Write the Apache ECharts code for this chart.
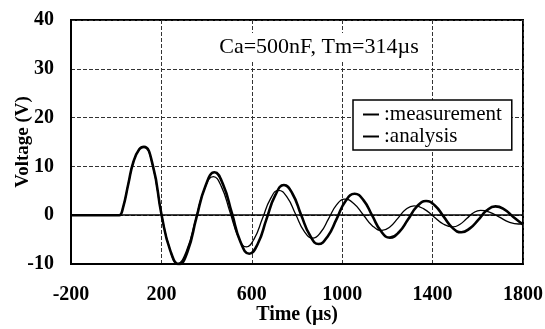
<!DOCTYPE html>
<html>
<head>
<meta charset="utf-8">
<script src="https://cdn.jsdelivr.net/npm/echarts@6/dist/echarts.min.js"></script>
<style>
html,body{margin:0;padding:0;background:#fff;}
#c{width:545px;height:329px;}
</style>
</head>
<body>
<div id="c"></div>
<script>
// ---- data ----
const titleText = "Ca=500nF, Tm=314µs";
const xName = "Time (µs)";
const yName = "Voltage (V)";
const seriesNames = ["measurement", "analysis"];

const measT = [-200,0,14,30,54,76,102,123,162,201,239,278,316,355,395,435,473,512,550,589,627,665,704,742,780,818,857,895,935,975,1015,1055,1094,1133,1172,1211,1251,1291,1331,1371,1410,1449,1488,1527,1565,1603,1640,1678,1717,1756,1800];
const measV = [0,0,0,1.5,6.5,10.9,13.5,14.0,10.2,0,-7.2,-10.1,-7.4,-0.5,6.0,8.8,6.3,0.4,-5.5,-7.9,-5.8,-0.8,4.1,6.2,4.4,0.1,-4.1,-5.9,-4.4,-0.8,2.9,4.4,3.1,-0.1,-3.3,-4.6,-3.5,-0.9,1.8,2.9,2.0,-0.3,-2.6,-3.5,-2.7,-0.9,1.0,1.8,1.2,-0.3,-1.9];

const anaT = [-200,0,14,30,54,76,102,123,160,198,235,272,311,351,390,430,466,503,540,576,611,647,683,718,756,794,832,870,905,940,975,1010,1051,1093,1134,1176,1211,1247,1282,1318,1361,1404,1447,1490,1520,1551,1581,1612,1654,1696,1738,1780,1800];
const anaV = [0,0,0,1.5,6.5,10.9,13.5,14.0,10.4,0.8,-6.6,-9.9,-7.3,-1.0,5.3,7.9,5.8,0.7,-4.4,-6.5,-4.8,-0.7,3.4,5.1,3.7,0.2,-3.3,-4.7,-3.5,-0.7,2.1,3.3,2.4,0.1,-2.2,-3.1,-2.4,-0.6,1.2,1.9,1.3,-0.25,-1.8,-2.4,-1.9,-0.7,0.5,1.0,0.6,-0.4,-1.4,-1.8,-1.75];

const xMin = -200, xMax = 1800, xStep = 400;
const yMin = -10, yMax = 40, yStep = 10;

// ---- chart ----
const pairs = (t, v) => t.map((x, i) => [x, v[i]]);
const serif = "Liberation Serif, Times New Roman, serif";
const chart = echarts.init(document.getElementById('c'), null, {renderer: 'canvas'});
const gridLine = {show: true, lineStyle: {color: '#333', width: 1, type: [4, 2]}};

chart.setOption({
  animation: false,
  backgroundColor: '#fff',
  title: {
    text: titleText,
    left: 315, top: 33, textAlign: 'center',
    padding: [3, 4],
    backgroundColor: '#fff',
    textStyle: {fontFamily: serif, fontSize: 22, fontWeight: 'normal', color: '#000'}
  },
  legend: {
    data: seriesNames,
    formatter: ':{name}',
    orient: 'vertical',
    left: 353, top: 100,
    padding: [4, 10, 3, 10],
    itemGap: 1,
    itemWidth: 16, itemHeight: 2,
    icon: 'rect',
    backgroundColor: '#fff',
    borderColor: '#000', borderWidth: 1.5, borderRadius: 0,
    textStyle: {fontFamily: serif, fontSize: 21, color: '#000'}
  },
  grid: {left: 71, right: 22, top: 20, bottom: 65, containLabel: false, outerBoundsMode: 'none',
         show: true, borderColor: '#000', borderWidth: 2, backgroundColor: 'transparent'},
  xAxis: {
    type: 'value', min: xMin, max: xMax, interval: xStep,
    name: xName, nameLocation: 'middle', nameGap: 41, nameMoveOverlap: false,
    nameTextStyle: {fontFamily: serif, fontSize: 20, fontWeight: 'bold', color: '#000'},
    axisLine: {show: true, onZero: false, lineStyle: {color: '#000', width: 2}},
    axisTick: {show: false},
    axisLabel: {fontFamily: serif, fontSize: 20, fontWeight: 'bold', color: '#000', margin: 21, formatter: v => String(v)},
    splitLine: gridLine
  },
  yAxis: {
    type: 'value', min: yMin, max: yMax, interval: yStep,
    name: yName, nameLocation: 'middle', nameGap: 38, nameMoveOverlap: false,
    nameTextStyle: {fontFamily: serif, fontSize: 19, fontWeight: 'bold', color: '#000'},
    axisLine: {show: true, onZero: false, lineStyle: {color: '#000', width: 2}},
    axisTick: {show: false},
    axisLabel: {fontFamily: serif, fontSize: 20, fontWeight: 'bold', color: '#000', margin: 17, formatter: v => String(v)},
    splitLine: gridLine
  },
  series: [
    {
      name: seriesNames[0], type: 'line', data: pairs(measT, measV),
      showSymbol: false, smooth: 0.5,
      lineStyle: {color: '#000', width: 2.6}, itemStyle: {color: '#000'},
      z: 3
    },
    {
      name: seriesNames[1], type: 'line', data: pairs(anaT, anaV),
      showSymbol: false, smooth: 0.5,
      lineStyle: {color: '#000', width: 1.3}, itemStyle: {color: '#000'},
      z: 4,
      markLine: {
        silent: true, symbol: 'none', label: {show: false},
        lineStyle: {color: '#000', width: 1.6, type: 'solid'},
        data: [{yAxis: 0}]
      }
    }
  ]
});
</script>
</body>
</html>
